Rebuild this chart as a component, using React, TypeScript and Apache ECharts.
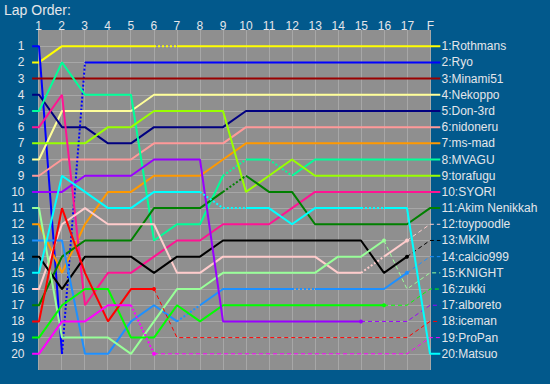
import React, { useEffect, useRef } from 'react';
import * as echarts from 'echarts';

// Lap tick labels (lap 1..17, then finish)
const lapLabels = ['1', '2', '3', '4', '5', '6', '7', '8', '9', '10', '11', '12', '13', '14', '15', '16', '17', 'F'];

// Drivers in final order
const drivers = [
  'Rothmans', 'Ryo', 'Minami51', 'Nekoppo', 'Don-3rd', 'nidoneru', 'ms-mad', 'MVAGU', 'torafugu', 'SYORI',
  'Akim Nenikkah', 'toypoodle', 'MKIM', 'calcio999', 'KNIGHT', 'zukki', 'alboreto', 'iceman', 'ProPan', 'Matsuo',
];

const colors = [
  '#ffff00', '#0000ff', '#990000', '#ffff99', '#000080', '#ff9999', '#ff9900', '#00ff99', '#99ff00', '#ff1493',
  '#008000', '#ffcccc', '#000000', '#1e90ff', '#99ff99', '#00ff00', '#9900ff', '#ff0000', '#ff00ff', '#00ffff',
];

// Position at each lap (1..17, F)
const rothmans = [2, 1, 1, 1, 1, 1, 1, 1, 1, 1, 1, 1, 1, 1, 1, 1, 1, 1];
const ryo = [1, 20, 2, 2, 2, 2, 2, 2, 2, 2, 2, 2, 2, 2, 2, 2, 2, 2];
const minami51 = [3, 3, 3, 3, 3, 3, 3, 3, 3, 3, 3, 3, 3, 3, 3, 3, 3, 3];
const nekoppo = [8, 5, 5, 5, 5, 4, 4, 4, 4, 4, 4, 4, 4, 4, 4, 4, 4, 4];
const don3rd = [4, 6, 6, 7, 7, 6, 6, 6, 6, 5, 5, 5, 5, 5, 5, 5, 5, 5];
const nidoneru = [9, 8, 8, 8, 8, 7, 7, 7, 7, 6, 6, 6, 6, 6, 6, 6, 6, 6];
const msmad = [12, 15, 12, 10, 10, 9, 9, 9, 8, 7, 7, 7, 7, 7, 7, 7, 7, 7];
const mvagu = [5, 2, 4, 4, 4, 13, 12, 12, 9, 8, 8, 9, 8, 8, 8, 8, 8, 8];
const torafugu = [7, 7, 7, 6, 6, 5, 5, 5, 5, 10, 9, 8, 9, 9, 9, 9, 9, 9];
const syori = [6, 4, 17, 15, 15, 14, 13, 13, 12, 12, 12, 11, 10, 10, 10, 10, 10, 10];
const akim = [17, 14, 13, 13, 13, 11, 11, 11, 10, 9, 10, 10, 12, 12, 12, 12, 12, 11];
const toypoodle = [16, 12, 11, 12, 12, 12, 15, 15, 14, 14, 14, 14, 14, 15, 15, 14, 13, 12];
const mkim = [14, 16, 14, 14, 14, 15, 14, 14, 13, 13, 13, 13, 13, 13, 13, 15, 14, 13];
const calcio = [13, 13, 20, 20, 18, 17, 18, 17, 16, 16, 16, 16, 16, 16, 16, 16, 15, 14];
const knight = [11, 19, 19, 19, 20, 18, 16, 16, 15, 15, 15, 15, 15, 14, 14, 13, 16, 15];
const zukki = [19, 17, 16, 16, 19, 19, 17, 18, 17, 17, 17, 17, 17, 17, 17, 17, 17, 16];
const alboreto = [10, 10, 9, 9, 9, 8, 8, 8, 18, 18, 18, 18, 18, 18, 18, 18, 18, 17];
const iceman = [18, 11, 15, 18, 16, 16, 19, 19, 19, 19, 19, 19, 19, 19, 19, 19, 19, 18];
const propan = [20, 18, 18, 17, 17, 20, 20, 20, 20, 20, 20, 20, 20, 20, 20, 20, 20, 19];
const matsuo = [15, 9, 10, 11, 11, 10, 10, 10, 11, 11, 11, 12, 11, 11, 11, 11, 11, 20];

const positions = [
  rothmans, ryo, minami51, nekoppo, don3rd, nidoneru, msmad, mvagu, torafugu, syori,
  akim, toypoodle, mkim, calcio, knight, zukki, alboreto, iceman, propan, matsuo,
];

// Style of segments lap1->2 ... lap17->F : s solid, o dotted, d dashed
const segStyles = [
  'sssssosssssssssss',
  'sosssssssssssssss',
  'sssssssssssssssss',
  'sssssssssssssssss',
  'sssssssssssssssss',
  'sssssssssssssssss',
  'sssssssssssssssss',
  'ssssssssosossssss',
  'sssssssssssssssss',
  'sssssssssssssssss',
  'ssssssssossssssss',
  'ssssssssssssssosd',
  'ssssssssssssssssd',
  'ssssssossssossssd',
  'sssssssssssssssdd',
  'sssssssssssssssdd',
  'ssssssssssssssddd',
  'sssssdddddddddddd',
  'ssssodddddddddddd',
  'sssssssoosssssoss',
];
// right-hand stub to the name label
const endStyles = ['s', 's', 's', 's', 's', 's', 's', 's', 's', 's', 's', 'd', 'd', 'd', 'd', 'd', 'd', 'd', 'd', 's'];

const STUB_L = 0.7;
const STUB_R = 18.45;

const lineStyles: Record<string, any> = {
  s: { type: 'solid', width: 2 },
  o: { type: [2, 2], width: 2 },
  d: { type: [4, 3], width: 1 },
};

function buildSeries() {
  const series: any[] = [];
  drivers.forEach((name, di) => {
    const pos = positions[di];
    const segs = 's' + segStyles[di] + endStyles[di];
    const xs = [STUB_L, ...pos.map((_, i) => i + 1), STUB_R];
    const ys = [pos[0], ...pos, pos[pos.length - 1]];
    let start = 0;
    for (let i = 1; i <= segs.length; i++) {
      if (i === segs.length || segs[i] !== segs[start]) {
        const st = segs[start];
        const data: any[] = [];
        for (let k = start; k <= i; k++) {
          const item: any = { value: [xs[k], ys[k]] };
          if (st === 'd' && k === start) {
            item.symbol = 'circle';
            item.symbolSize = 4;
          }
          data.push(item);
        }
        series.push({
          name,
          type: 'line',
          xAxisIndex: 1,
          yAxisIndex: 2,
          data,
          symbol: 'none',
          showSymbol: true,
          silent: true,
          itemStyle: { color: colors[di] },
          lineStyle: { color: colors[di], ...lineStyles[st] },
          z: 3,
        });
        start = i;
      }
    }
  });
  return series;
}

const BG = '#02598c';
const TXT = '#e4e6ea';

export default function App() {
  const ref = useRef<HTMLDivElement>(null);
  useEffect(() => {
    document.body.style.margin = '0';
    const chart = echarts.init(ref.current!, null, { renderer: 'svg' });
    const yLineColors = Array.from({ length: 22 }, (_, i) => (i === 0 || i === 21 ? 'rgba(0,0,0,0)' : '#a7a7a7'));
    chart.setOption({
      animation: false,
      backgroundColor: BG,
      textStyle: { fontFamily: 'Liberation Sans' },
      title: {
        text: 'Lap Order:',
        left: 2,
        top: 1,
        padding: [2, 2, 0, 2],
        textStyle: { color: TXT, fontSize: 14, lineHeight: 14, fontWeight: 'normal', fontFamily: 'Liberation Sans' },
      },
      grid: [
        { left: 38.5, top: 30, width: 392, height: 340, show: true, backgroundColor: '#8f8f8f', borderWidth: 0 },
        { left: 32.1, top: 30, width: 408.25, height: 340, show: false },
      ],
      xAxis: [
        {
          gridIndex: 0,
          type: 'value',
          min: 1,
          max: 18,
          interval: 1,
          position: 'top',
          axisLine: { show: false },
          axisTick: { show: false },
          axisLabel: {
            color: TXT,
            fontSize: 12,
            lineHeight: 12,
            margin: -2,
            showMinLabel: true,
            showMaxLabel: true,
            formatter: (v: number) => lapLabels[v - 1] ?? '',
          },
          splitLine: { show: true, lineStyle: { color: '#a7a7a7', width: 1 } },
        },
        { gridIndex: 1, type: 'value', min: STUB_L, max: STUB_R, show: false },
      ],
      yAxis: [
        {
          gridIndex: 0,
          type: 'value',
          min: 0,
          max: 21,
          interval: 1,
          inverse: true,
          position: 'left',
          axisLine: { show: false },
          axisTick: { show: false },
          axisLabel: {
            color: TXT,
            fontSize: 12,
            margin: 14,
            formatter: (v: number) => (v >= 1 && v <= 20 ? String(v) : ''),
          },
          splitLine: { show: true, lineStyle: { color: yLineColors, width: 1 } },
        },
        {
          gridIndex: 0,
          type: 'value',
          min: 0,
          max: 21,
          interval: 1,
          inverse: true,
          position: 'right',
          axisLine: { show: false },
          axisTick: { show: false },
          splitLine: { show: false },
          axisLabel: {
            color: TXT,
            fontSize: 12,
            margin: 11,
            formatter: (v: number) => (v >= 1 && v <= 20 ? `${v}:${drivers[v - 1]}` : ''),
          },
        },
        { gridIndex: 1, type: 'value', min: 0, max: 21, inverse: true, show: false },
      ],
      series: [
        { type: 'line', xAxisIndex: 0, yAxisIndex: 0, data: [], silent: true },
        ...buildSeries(),
      ],
    });
    return () => chart.dispose();
  }, []);
  return (
    <div
      ref={ref}
      style={{ position: 'fixed', left: 0, top: 0, width: 550, height: 384, background: BG }}
    />
  );
}
